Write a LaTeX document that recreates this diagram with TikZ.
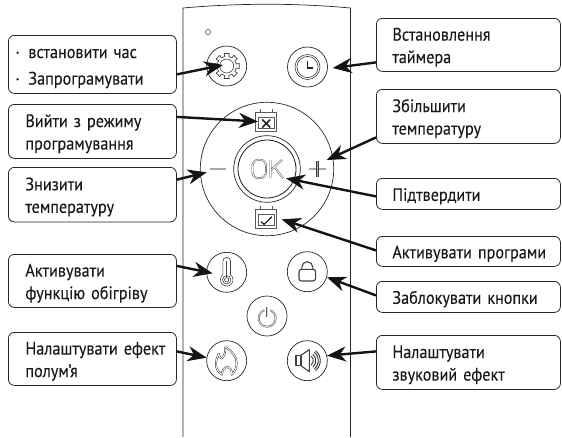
\documentclass[tikz,border=0pt]{standalone}
\usepackage{fontspec}
\setmainfont[FakeStretch=0.9,WordSpace=0.7,FakeBold=0.12]{PT Sans}
\usetikzlibrary{arrows.meta}
\tikzset{
  x=1pt,y=-1pt,
  box/.style={draw=black!85,line width=0.8pt,rounded corners=6pt,align=left,anchor=north west,inner sep=0pt,text=black!90,font=\fontsize{18}{22.5}\selectfont,execute at begin node={\rule{0pt}{17.5pt}}},
  lbox/.style={box,minimum width=168pt,text width=134pt},
  rbox/.style={box,minimum width=184pt,text width=152pt},
  ring/.style={circle,draw=black!85,line width=0.7pt,inner sep=0pt,minimum size=40pt},
  dot/.style={circle,draw=black!80,line width=0.5pt,inner sep=0pt},
  arr/.style={-{Stealth[length=19pt,width=15pt,inset=6pt]},line width=2.4pt,draw=black!92},
  ol/.style={draw=black!75,line width=0.45pt,double=white,double distance=0.9pt,line cap=butt,line join=round},
  sl/.style={draw=black!75,line width=0.6pt,line join=round}
}
\begin{document}
\begin{tikzpicture}
\useasboundingbox (0,0) rectangle (562,437);
% remote body
\draw[line width=0.7pt,draw=black!85] (183,437) -- (183,8) .. controls (240,3) and (295,3) .. (350.5,8) -- (350.5,437);
\node[dot,minimum size=5pt] (led) at (208,32) {};
% rings
\node[ring] (gear) at (226.7,66) {};
\node[ring] (clock) at (307.5,67) {};
\node[ring] (therm) at (226.7,272.3) {};
\node[ring] (lock) at (307.3,271.7) {};
\node[ring] (power) at (267,316) {};
\node[ring] (flame) at (226.7,360.7) {};
\node[ring] (speak) at (307.3,360.7) {};
\node[circle,draw=black!85,line width=0.7pt,minimum size=133.4pt,inner sep=0pt] (pad) at (267,169) {};
\node[circle,draw=black!85,line width=0.7pt,minimum size=66.6pt,inner sep=0pt] (okouter) at (267,169) {};
\node[circle,draw=black!90,line width=0.8pt,minimum size=58pt,inner sep=0pt] (okinner) at (267,169) {};
% gear icon
\begin{scope}[shift={(gear.center)}]
\draw[sl,line width=0.7pt] (9.5,-2)--(12.5,-2.5)--(12.5,2.5)--(9.5,2)--
(8.1,5.3)--(10.6,7.0)--(7.0,10.6)--(5.3,8.1)--
(2,9.5)--(2.5,12.5)--(-2.5,12.5)--(-2,9.5)--
(-5.3,8.1)--(-7.0,10.6)--(-10.6,7.0)--(-8.1,5.3)--
(-9.5,2)--(-12.5,2.5)--(-12.5,-2.5)--(-9.5,-2)--
(-8.1,-5.3)--(-10.6,-7.0)--(-7.0,-10.6)--(-5.3,-8.1)--
(-2,-9.5)--(-2.5,-12.5)--(2.5,-12.5)--(2,-9.5)--
(5.3,-8.1)--(7.0,-10.6)--(10.6,-7.0)--(8.1,-5.3)--cycle;
\draw[sl] (0,0) circle (7);
\end{scope}
% clock icon
\begin{scope}[shift={(clock.center)}]
\draw[sl] (0,0) circle (12.5);
\draw[sl] (0,0) circle (10.6);
\draw[line width=1.2pt,black!85] (0,-6.5) -- (0,1) -- (5.5,1);
\end{scope}
% calendars
\foreach \nm/\cy in {cx/122,cc/219}{
\node[inner sep=0pt,minimum width=21pt,minimum height=18.6pt,draw=black!65,line width=1.1pt] (\nm) at (266.2,\cy) {};
\draw[line width=1pt,black!65] ([xshift=3pt,yshift=3pt]\nm.south west) rectangle ([xshift=-3pt,yshift=-5.5pt]\nm.north east);
\draw[line width=1pt,black!65] ([xshift=5pt]\nm.north west) -- +(0,-3.5) ([xshift=-5pt]\nm.north east) -- +(0,-3.5);
}
\draw[line width=1.5pt,black!85] ([xshift=-4pt,yshift=-5.5pt]cx.center) -- ([xshift=4pt,yshift=2.5pt]cx.center) ([xshift=-4pt,yshift=2.5pt]cx.center) -- ([xshift=4pt,yshift=-5.5pt]cx.center);
\draw[line width=1.3pt,black!85] ([xshift=-5.3pt,yshift=-2.7pt]cc.center) -- ([xshift=-2pt,yshift=-5.3pt]cc.center) -- ([xshift=5.7pt,yshift=2.3pt]cc.center);
% minus, plus
\draw[ol,double=black!35,double distance=1.6pt] (210,169) -- (225.7,169);
\draw[ol,double=black!35,double distance=1.6pt] (309,169) -- (325.6,169);
\draw[ol,double=black!35,double distance=1.6pt] (317.3,161) -- (317.3,177);
% OK
\begin{scope}[shift={(okinner.center)}]
\draw[ol,rounded corners=6pt] (-14.5,-9.2) rectangle (-1,9.2);
\draw[ol,line join=miter] (3.5,-9.2) -- (3.5,9.2) (3.5,1.5) -- (15,-9.2) (7.5,-2) -- (16,9.2);
\end{scope}
% thermometer
\begin{scope}[shift={(therm.center)}]
\draw[sl] (-3.8,2.5) -- (-3.8,-11.2) arc (180:360:3.8) -- (3.8,2.5) arc (-53:233:6.3);
\draw[sl] (0,7.5) circle (4.2);
\draw[sl] (0,7.5) circle (2.2);
\draw[line width=1.3pt,black!70] (0,-11) -- (0,6);
\end{scope}
% lock
\begin{scope}[shift={(lock.center)}]
\draw[line width=1.1pt,black!75,rounded corners=2.5pt] (-8.3,-2.4) rectangle (8.3,9.3);
\draw[line width=1.1pt,black!75] (-5.5,-2.4) -- (-5.5,-4.5) arc (180:360:5.5) -- (5.5,-2.4);
\end{scope}
% power
\begin{scope}[shift={(power.center)}]
\draw[ol,draw=black!65,double=black!15] (3.08,-5.8) arc (-70:250:8.5);
\draw[ol,draw=black!65,double=black!15] (0,-9.5) -- (0,0.5);
\end{scope}
% flame
\begin{scope}[shift={(flame.center)}]
\draw[ol,draw=black!85] (-1.7,-14) .. controls (5,-10) and (10,-4) .. (10,2) .. controls (10,7) and (8,11) .. (5,14) .. controls (5.5,10) and (4,7) .. (0,6) .. controls (-3,7) and (-5,10) .. (-4.7,14) .. controls (-8,12) and (-11,8) .. (-10.7,3) .. controls (-10.5,-1) and (-9.5,-4) .. (-8,-7) .. controls (-8,-4) and (-6.5,-2.5) .. (-5,-2.3) .. controls (-2.5,-4) and (-0.5,-9) .. (-1.7,-14);
\end{scope}
% speaker
\begin{scope}[shift={(speak.center)}]
\draw[line width=1.1pt,black!75,line join=round] (-11.3,-5.5) rectangle (-6.3,5);
\draw[line width=1.1pt,black!75,line join=round] (-6.3,-5.5) -- (2,-11) -- (2,11) -- (-6.3,5);
\foreach \r in {6,8.5,11,13}{
\draw[line width=0.9pt,black!80] (-50:\r) arc (-50:50:\r);
}
\end{scope}
% left boxes
\node[lbox,minimum height=58pt] (b1) at (8,35) {\hspace*{-10pt}\makebox[13pt][l]{·}встановити час\\[4pt]\hspace*{-10pt}\makebox[13pt][l]{·}Запрограмувати};
\node[lbox,minimum height=54pt] (b2) at (8,104) {Вийти з режиму\\програмування};
\node[lbox,minimum height=54.5pt] (b3) at (8,167) {Знизити\\температуру};
\node[lbox,minimum height=53pt] (b4) at (8,254) {Активувати\\\mbox{функцію обігріву}};
\node[lbox,minimum height=53pt] (b5) at (8,332) {\mbox{Налаштувати ефект}\\полум'я};
% right boxes
\node[rbox,minimum height=53pt] (r1) at (376,18) {Встановлення\\таймера};
\node[rbox,minimum height=54pt] (r2) at (376,89) {Збільшити\\температуру};
\node[rbox,minimum height=31pt] (r3) at (376,178) {Підтвердити};
\node[rbox,minimum height=30pt] (r4) at (376,236) {\mbox{Активувати програми}};
\node[rbox,minimum height=31pt] (r5) at (376,281) {Заблокувати кнопки};
\node[rbox,minimum height=54pt] (r6) at (376,335) {Налаштувати\\звуковий ефект};
% connector targets
\coordinate (tgear) at (223,65);
\coordinate (tcx) at (258,121.5);
\coordinate (tmn) at (206.7,172.3);
\coordinate (tclock) at (332.7,68);
\coordinate (tpl) at (326.7,160);
\coordinate (tok) at (286,178.3);
\coordinate (tcc) at (281.7,219.3);
\coordinate (tlock) at (327,277.3);
\coordinate (tspeak) at (327,355.7);
\coordinate (ttherm) at (212.7,273.3);
\coordinate (tflame) at (206.7,357.7);
\draw[arr] ([yshift=-10pt]b1.east) -- (tgear);
\draw[arr] ([yshift=14.5pt]b2.east) -- (tcx);
\draw[arr] ([yshift=15pt]b3.east) -- (tmn);
\draw[arr] ([yshift=15pt]b4.east) -- (ttherm);
\draw[arr] ([yshift=7.5pt]b5.east) -- (tflame);
\draw[arr] ([yshift=-17.5pt]r1.west) -- (tclock);
\draw[arr] ([yshift=-21pt]r2.west) -- (tpl);
\draw[arr] ([yshift=-2.5pt]r3.west) -- (tok);
\draw[arr] ([yshift=1pt]r4.west) -- (tcc);
\draw[arr] ([yshift=1.5pt]r5.west) -- (tlock);
\draw[arr] ([yshift=11pt]r6.west) -- (tspeak);
\end{tikzpicture}
\end{document}
